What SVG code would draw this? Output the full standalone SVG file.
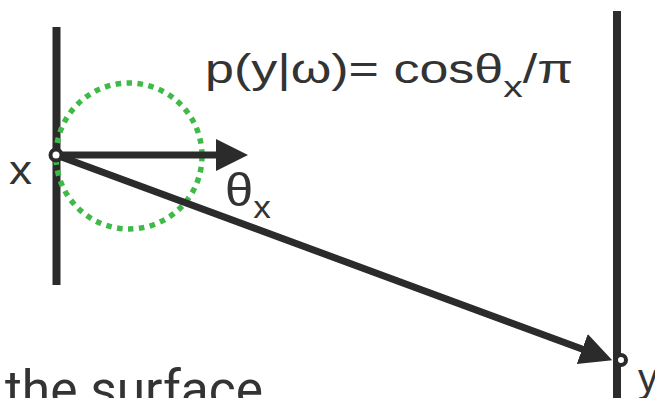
<svg xmlns="http://www.w3.org/2000/svg" width="655" height="398" viewBox="0 0 655 398">
<style>
.wall{stroke:#2b2b2b;stroke-width:8;fill:none}
.ray{stroke:#2b2b2b;stroke-width:7;fill:none}
.pt{stroke:#2b2b2b;stroke-width:4;fill:#fff}
.lbl{font-family:"Liberation Sans",Arial,sans-serif;fill:#333}
.lbl2{font-family:Roboto,"Liberation Sans",sans-serif;fill:#333}
</style>
<defs>
<marker id="ah" markerUnits="userSpaceOnUse" markerWidth="32" markerHeight="34" refX="20" refY="16" orient="auto">
<path d="M0,0 L32,16 L0,32 z" fill="#2b2b2b"/>
</marker>
</defs>
<rect width="655" height="398" fill="#fff"/>
<g id="surface-left"><line class="wall" x1="56.5" y1="27" x2="56.5" y2="285"/></g>
<g id="surface-right"><line class="wall" x1="617" y1="11" x2="617" y2="398"/></g>
<g id="lobe"><circle cx="129" cy="156" r="73" fill="none" stroke="#3fba48" stroke-width="5.5" stroke-dasharray="5.5 5.5"/></g>
<g id="connectors">
<line class="ray" x1="56" y1="155" x2="236" y2="155" marker-end="url(#ah)"/>
<line class="ray" x1="56" y1="155" x2="601" y2="356" stroke-width="6" marker-end="url(#ah)"/>
</g>
<g id="point-x"><circle class="pt" cx="56" cy="155" r="5.5"/><text class="lbl" font-size="40" transform="translate(9,184) scale(1.15,1)">x</text></g>
<g id="point-y"><circle class="pt" cx="621" cy="360" r="5"/><text class="lbl" x="638" y="392" font-size="40">y</text></g>
<g id="formula"><text class="lbl" font-size="40" transform="translate(205,83) scale(1.3,1)">p(y|ω)= cosθ<tspan font-size="30" dy="14">x</tspan><tspan dy="-14">/π</tspan></text></g>
<g id="angle"><text class="lbl" font-size="46" transform="translate(225,206) scale(1.1,1)">θ<tspan font-size="32" dy="12">x</tspan></text></g>
<g id="caption"><text class="lbl2" x="5" y="407" font-size="52" textLength="258" lengthAdjust="spacingAndGlyphs">the surface</text></g>
</svg>
